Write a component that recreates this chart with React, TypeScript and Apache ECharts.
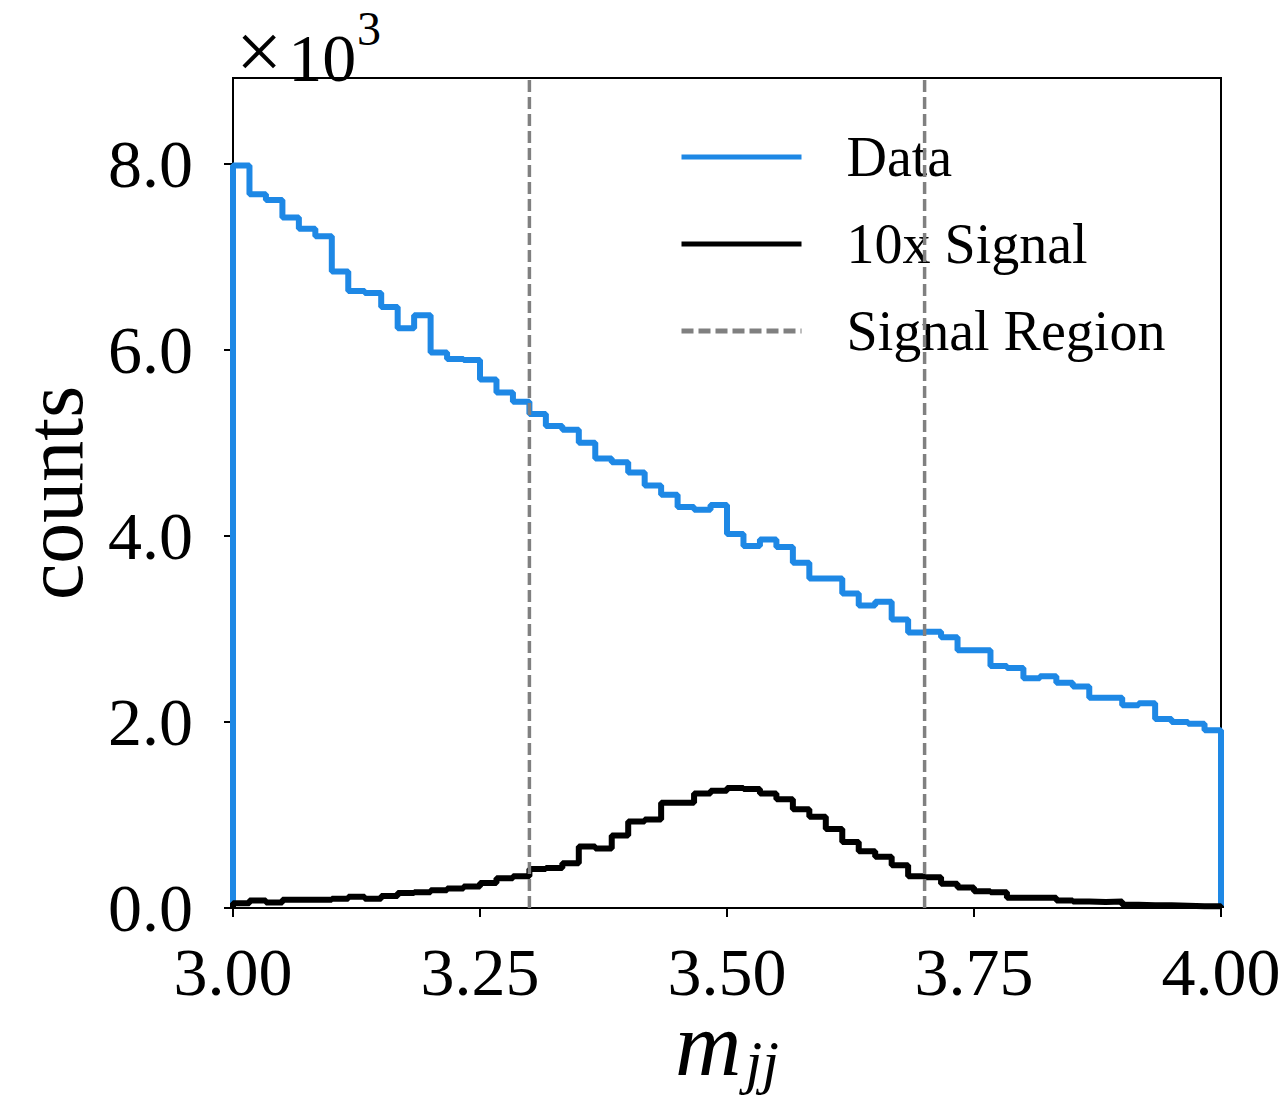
import React, { useEffect, useRef } from "react";
import * as echarts from "echarts";

// Histogram range and bin values (in units of 10^3 counts), 60 equal bins
const X_MIN = 3.0;
const X_MAX = 4.0;
const Y_MAX = 8.92;
const xTicks = [3.0, 3.25, 3.5, 3.75, 4.0];
const yTicks = [0, 2, 4, 6, 8];
const signalRegion = [3.3, 3.7];

const dataCounts = [
  7.98, 7.67, 7.61, 7.42, 7.30, 7.22, 6.84, 6.63, 6.61, 6.46,
  6.23, 6.37, 5.97, 5.90, 5.89, 5.68, 5.54, 5.44, 5.31, 5.18,
  5.14, 5.00, 4.83, 4.79, 4.68, 4.54, 4.44, 4.31, 4.28, 4.33,
  4.02, 3.89, 3.96, 3.88, 3.71, 3.54, 3.54, 3.38, 3.25, 3.29,
  3.10, 2.96, 2.97, 2.91, 2.77, 2.77, 2.60, 2.58, 2.47, 2.49,
  2.42, 2.38, 2.26, 2.26, 2.18, 2.20, 2.03, 2.00, 1.98, 1.91,
];

const signalCounts = [
  0.05, 0.08, 0.06, 0.09, 0.09, 0.09, 0.10, 0.12, 0.10, 0.13,
  0.16, 0.17, 0.19, 0.21, 0.23, 0.27, 0.32, 0.34, 0.42, 0.43,
  0.48, 0.66, 0.64, 0.78, 0.93, 0.95, 1.13, 1.13, 1.23, 1.26,
  1.29, 1.28, 1.23, 1.17, 1.06, 0.98, 0.85, 0.71, 0.61, 0.55,
  0.46, 0.34, 0.33, 0.26, 0.22, 0.18, 0.17, 0.11, 0.11, 0.11,
  0.08, 0.07, 0.065, 0.07, 0.035, 0.03, 0.03, 0.025, 0.02, 0.02,
];

const FONT = "'Liberation Serif', 'Times New Roman', serif";

function stepPoints(values: number[]): number[][] {
  const w = (X_MAX - X_MIN) / values.length;
  const pts: number[][] = [[X_MIN, 0]];
  values.forEach((v, i) => {
    pts.push([X_MIN + i * w, v]);
    pts.push([X_MIN + (i + 1) * w, v]);
  });
  pts.push([X_MAX, 0]);
  return pts;
}

export default function App() {
  const ref = useRef<HTMLDivElement>(null);

  useEffect(() => {
    if (!ref.current) return;
    const chart = echarts.init(ref.current, null, { renderer: "svg" });
    const dashed = {
      color: "#808080",
      width: 3.5,
      type: [12, 5] as any,
    };
    chart.setOption({
      animation: false,
      backgroundColor: "#ffffff",
      textStyle: { fontFamily: FONT, color: "#000" },
      grid: {
        left: 233,
        top: 78,
        width: 988,
        height: 830,
        containLabel: false,
        outerBoundsMode: "none",
        show: true,
        borderColor: "#000",
        borderWidth: 2,
        backgroundColor: "transparent",
      },
      legend: {
        data: ["Data", "10x Signal", "Signal Region"],
        orient: "vertical",
        left: 665,
        top: 115,
        padding: [12, 14, 12, 14],
        backgroundColor: "rgba(255,255,255,0.8)",
        itemWidth: 120,
        itemHeight: 3,
        itemGap: 27,
        lineStyle: { width: 5 },
        textStyle: {
          fontFamily: FONT,
          fontSize: 56,
          lineHeight: 60,
          color: "#000",
          padding: [0, 0, 0, 40],
        },
      },
      xAxis: {
        type: "value",
        min: X_MIN,
        max: X_MAX,
        interval: 0.25,
        name: "{m|m}{s|jj}",
        nameLocation: "middle",
        nameGap: 92,
        nameMoveOverlap: false,
        nameTextStyle: {
          rich: {
            m: {
              fontFamily: FONT,
              fontStyle: "italic",
              fontSize: 92,
              lineHeight: 92,
              color: "#000",
              padding: [0, 0, 2, 0],
              verticalAlign: "bottom",
            },
            s: {
              fontFamily: FONT,
              fontStyle: "italic",
              fontSize: 60,
              lineHeight: 60,
              color: "#000",
              padding: [0, 0, 0, 4],
              verticalAlign: "bottom",
            },
          },
        },
        axisLine: { show: true, lineStyle: { color: "#000", width: 2 } },
        axisTick: { show: true, length: 9, lineStyle: { color: "#000", width: 2 }, customValues: xTicks },
        axisLabel: {
          fontFamily: FONT,
          fontSize: 68,
          color: "#000",
          margin: 30,
          customValues: xTicks,
          formatter: (v: number) => v.toFixed(2),
        },
        splitLine: { show: false },
      },
      yAxis: {
        type: "value",
        min: 0,
        max: Y_MAX,
        interval: 2,
        name: "counts",
        nameLocation: "middle",
        nameGap: 138,
        nameMoveOverlap: false,
        nameTextStyle: { fontFamily: FONT, fontSize: 82, color: "#000" },
        axisLine: { show: true, lineStyle: { color: "#000", width: 2 } },
        axisTick: { show: true, length: 9, lineStyle: { color: "#000", width: 2 }, customValues: yTicks },
        axisLabel: {
          fontFamily: FONT,
          fontSize: 68,
          color: "#000",
          margin: 40,
          customValues: yTicks,
          formatter: (v: number) => v.toFixed(1),
        },
        splitLine: { show: false },
      },
      graphic: [
        {
          type: "text",
          left: 236,
          top: 10,
          style: {
            text: "{x|×}{n|10}",
            rich: {
              x: { font: `82px ${FONT}`, fill: "#000", lineHeight: 72, verticalAlign: "bottom", padding: [0, 6, 0, 0] },
              n: { font: `68px ${FONT}`, fill: "#000", lineHeight: 72, verticalAlign: "bottom" },
            },
          },
        },
        {
          type: "text",
          left: 357,
          top: 4,
          style: { text: "3", font: `48px ${FONT}`, fill: "#000" },
        },
      ],
      series: [
        {
          name: "Data",
          type: "line",
          data: stepPoints(dataCounts),
          symbol: "none",
          legendIcon: "rect",
          lineStyle: { color: "#1e88e5", width: 6 },
          itemStyle: { color: "#1e88e5" },
          emphasis: { disabled: true },
          z: 2,
        },
        {
          name: "10x Signal",
          type: "line",
          data: stepPoints(signalCounts),
          symbol: "none",
          legendIcon: "rect",
          lineStyle: { color: "#000", width: 6 },
          itemStyle: { color: "#000" },
          emphasis: { disabled: true },
          z: 3,
        },
        {
          name: "Signal Region",
          type: "line",
          data: [[signalRegion[0], 0], [signalRegion[0], Y_MAX]],
          symbol: "none",
          legendIcon: "rect",
          lineStyle: dashed,
          itemStyle: { color: "#808080" },
          emphasis: { disabled: true },
          z: 4,
        },
        {
          name: "Signal Region",
          type: "line",
          data: [[signalRegion[1], 0], [signalRegion[1], Y_MAX]],
          symbol: "none",
          legendIcon: "rect",
          lineStyle: dashed,
          itemStyle: { color: "#808080" },
          emphasis: { disabled: true },
          z: 4,
        },
      ],
    });
    return () => chart.dispose();
  }, []);

  return (
    <div
      ref={ref}
      style={{ position: "fixed", left: 0, top: 0, width: 1287, height: 1105, background: "#fff" }}
    />
  );
}
